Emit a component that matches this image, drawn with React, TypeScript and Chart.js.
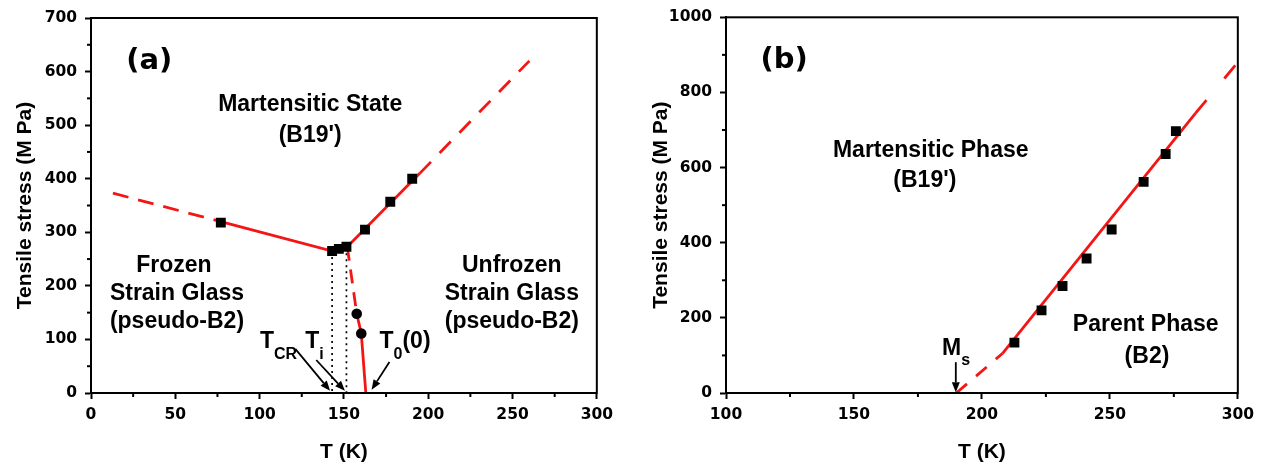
import React, { useEffect, useRef } from 'react';
import { Chart, registerables } from 'chart.js';

Chart.register(...registerables);

// ---------- Panel (a) data ----------
const aSquareT = [77, 143, 147, 151.5, 162.5, 177.5, 190.5];
const aSquareStress = [318, 265, 269, 273, 305, 357, 400];
const aCircleT = [157.6, 160.3];
const aCircleStress = [148, 111];
const aFitLowDashT = [13, 77];
const aFitLowDashStress = [373, 320];
const aFitSolidT = [77, 143, 152, 195];
const aFitSolidStress = [320, 265, 273, 410];
const aFitHighDashT = [195, 260];
const aFitHighDashStress = [410, 620];
const aBoundaryDashT = [152, 157.6];
const aBoundaryDashStress = [273, 148];
const aBoundarySolidT = [157.6, 160.3, 163];
const aBoundarySolidStress = [148, 111, 0];
const aDottedT = [143, 151.5];
const aDottedTop = [265, 272];
const aXTicks = [0, 50, 100, 150, 200, 250, 300];
const aXMinor = [25, 75, 125, 175, 225, 275];
const aYTicks = [0, 100, 200, 300, 400, 500, 600, 700];
const aYMinor = [50, 150, 250, 350, 450, 550, 650];

// ---------- Panel (b) data ----------
const bSquareT = [212.7, 223.3, 231.5, 240.9, 250.7, 263.2, 271.8, 275.8];
const bSquareStress = [134, 220, 285, 358, 435, 562, 636, 697];
const bFitLowDashT = [190, 208];
const bFitLowDashStress = [0, 105];
const bFitSolidT = [208, 283.5];
const bFitSolidStress = [105, 745];
const bFitHighDashT = [283.5, 299];
const bFitHighDashStress = [745, 872];
const bXTicks = [100, 150, 200, 250, 300];
const bXMinor = [125, 175, 225, 275];
const bYTicks = [0, 200, 400, 600, 800, 1000];
const bYMinor = [100, 300, 500, 700, 900];

// ---------- Annotations (data coordinates) ----------
const aLabels = [
  { text: '(a)', t: 34.6, s: 618, big: true },
  { text: 'Martensitic State', t: 130, s: 538 },
  { text: "(B19')", t: 130, s: 480 },
  { text: 'Frozen', t: 49.2, s: 237 },
  { text: 'Strain Glass', t: 51, s: 185 },
  { text: '(pseudo-B2)', t: 51, s: 133 },
  { text: 'Unfrozen', t: 249.6, s: 237 },
  { text: 'Strain Glass', t: 249.6, s: 185 },
  { text: '(pseudo-B2)', t: 249.6, s: 133 },
];
const aSubLabels = [
  { main: 'T', sub: 'CR', after: '', t: 100.2, s: 95 },
  { main: 'T', sub: 'i', after: '', t: 127.1, s: 95 },
  { main: 'T', sub: '0', after: '(0)', t: 171.1, s: 95 },
];
const aArrows = [
  { from: [121.3, 82], to: [141.8, 4] },
  { from: [133.6, 61.6], to: [150.6, 4] },
  { from: [177, 58], to: [166.4, 6] },
];
const bLabels = [
  { text: '(b)', t: 122.7, s: 886, big: true },
  { text: 'Martensitic Phase', t: 180, s: 646 },
  { text: "(B19')", t: 177.7, s: 566 },
  { text: 'Parent Phase', t: 264, s: 181 },
  { text: '(B2)', t: 264.5, s: 98 },
];
const bSubLabels = [{ main: 'M', sub: 's', after: '', t: 184.4, s: 117 }];
const bArrows = [{ from: [189.8, 82], to: [189.8, 2] }];

const RED = '#f41515';
const TICK_FONT = { family: '"DejaVu Sans", sans-serif', size: 15.5, weight: 'bold' as const };
const TITLE_FONT = { family: '"Liberation Sans", Arial, sans-serif', size: 21, weight: 'bold' as const };
const ANN_FONT = 'bold 23px "Liberation Sans", Arial, sans-serif';
const BIG_FONT = 'bold 29px "DejaVu Sans", sans-serif';
const SUB_FONT = 'bold 16px "Liberation Sans", Arial, sans-serif';

const pts = (xs: number[], ys: number[]) => xs.map((x, i) => ({ x, y: ys[i] }));

function drawArrow(ctx: CanvasRenderingContext2D, x1: number, y1: number, x2: number, y2: number) {
  const ang = Math.atan2(y2 - y1, x2 - x1);
  const head = 10;
  const hw = 4;
  const bx = x2 - head * Math.cos(ang);
  const by = y2 - head * Math.sin(ang);
  ctx.beginPath();
  ctx.moveTo(x1, y1);
  ctx.lineTo(bx, by);
  ctx.lineWidth = 1.8;
  ctx.stroke();
  ctx.beginPath();
  ctx.moveTo(x2, y2);
  ctx.lineTo(bx + hw * Math.sin(ang), by - hw * Math.cos(ang));
  ctx.lineTo(bx - hw * Math.sin(ang), by + hw * Math.cos(ang));
  ctx.closePath();
  ctx.fill();
}

function decorPlugin(p: any) {
  return {
    id: 'decor',
    afterDatasetsDraw(chart: any) {
      const { ctx, chartArea: ca, scales } = chart;
      const x = scales.x;
      const y = scales.y;
      ctx.save();
      ctx.strokeStyle = '#000';
      ctx.fillStyle = '#000';
      ctx.lineWidth = 2;
      ctx.setLineDash([]);
      ctx.strokeRect(ca.left, ca.top, ca.right - ca.left, ca.bottom - ca.top);
      // minor ticks
      p.xMinor.forEach((v: number) => {
        const px = x.getPixelForValue(v);
        ctx.beginPath();
        ctx.moveTo(px, ca.bottom);
        ctx.lineTo(px, ca.bottom + 4);
        ctx.stroke();
      });
      p.yMinor.forEach((v: number) => {
        const py = y.getPixelForValue(v);
        ctx.beginPath();
        ctx.moveTo(ca.left, py);
        ctx.lineTo(ca.left - 4, py);
        ctx.stroke();
      });
      // labels
      ctx.textAlign = 'center';
      ctx.textBaseline = 'middle';
      p.labels.forEach((l: any) => {
        ctx.font = l.big ? BIG_FONT : ANN_FONT;
        ctx.fillText(l.text, x.getPixelForValue(l.t), y.getPixelForValue(l.s));
      });
      // subscripted labels
      ctx.textAlign = 'left';
      p.subLabels.forEach((l: any) => {
        let px = x.getPixelForValue(l.t);
        const py = y.getPixelForValue(l.s);
        ctx.font = ANN_FONT;
        ctx.fillText(l.main, px, py);
        px += ctx.measureText(l.main).width;
        ctx.font = SUB_FONT;
        ctx.fillText(l.sub, px, py + 12);
        px += ctx.measureText(l.sub).width;
        if (l.after) {
          ctx.font = ANN_FONT;
          ctx.fillText(l.after, px, py);
        }
      });
      // arrows
      p.arrows.forEach((a: any) => {
        drawArrow(
          ctx,
          x.getPixelForValue(a.from[0]),
          y.getPixelForValue(a.from[1]),
          x.getPixelForValue(a.to[0]),
          y.getPixelForValue(a.to[1])
        );
      });
      ctx.restore();
    },
  };
}

function lineDs(xs: number[], ys: number[], dash: number[], color = RED, width = 2.8) {
  return {
    data: pts(xs, ys),
    showLine: true,
    borderColor: color,
    borderWidth: width,
    borderDash: dash,
    pointRadius: 0,
    fill: false,
    tension: 0,
  };
}

function buildConfig(p: any): any {
  return {
    type: 'scatter',
    data: { datasets: p.datasets },
    plugins: [decorPlugin(p)],
    options: {
      animation: false,
      responsive: false,
      devicePixelRatio: 1,
      layout: { padding: { left: 0, top: p.padTop, right: p.padRight, bottom: 0 } },
      plugins: { legend: { display: false }, tooltip: { enabled: false } },
      scales: {
        x: {
          type: 'linear',
          min: p.xMin,
          max: p.xMax,
          afterBuildTicks: (s: any) => {
            s.ticks = p.xTicks.map((v: number) => ({ value: v }));
          },
          afterFit: (s: any) => {
            s.height = 74;
          },
          ticks: { font: TICK_FONT, color: '#000', padding: 7, maxRotation: 0, autoSkip: false, callback: (v: any) => String(v) },
          grid: { display: true, drawOnChartArea: false, drawTicks: true, tickLength: 6, tickWidth: 2, tickColor: '#000' },
          border: { display: true, color: '#000', width: 2 },
          title: { display: true, text: 'T (K)', font: TITLE_FONT, color: '#000', padding: { top: 0, bottom: 2.4 } },
        },
        y: {
          type: 'linear',
          min: p.yMin,
          max: p.yMax,
          afterBuildTicks: (s: any) => {
            s.ticks = p.yTicks.map((v: number) => ({ value: v }));
          },
          afterFit: (s: any) => {
            s.width = p.yWidth;
          },
          ticks: { font: TICK_FONT, color: '#000', padding: 8, autoSkip: false, callback: (v: any) => String(v) },
          grid: { display: true, drawOnChartArea: false, drawTicks: true, tickLength: 6, tickWidth: 2, tickColor: '#000' },
          border: { display: true, color: '#000', width: 2 },
          title: {
            display: true,
            text: 'Tensile stress (M Pa)',
            font: TITLE_FONT,
            color: '#000',
            padding: { top: p.yTitlePad, bottom: 0 },
          },
        },
      },
    },
  };
}

const squareStyle = { pointStyle: 'rect', pointRadius: 7, backgroundColor: '#000', borderColor: '#000', borderWidth: 0, showLine: false };
const circleStyle = { pointStyle: 'circle', pointRadius: 5.3, backgroundColor: '#000', borderColor: '#000', borderWidth: 0, showLine: false };

const panelA = {
  xMin: 0,
  xMax: 300,
  yMin: 0,
  yMax: 700,
  xTicks: aXTicks,
  yTicks: aYTicks,
  xMinor: aXMinor,
  yMinor: aYMinor,
  padTop: 18,
  padRight: 17,
  yWidth: 91,
  yTitlePad: 13,
  labels: aLabels,
  subLabels: aSubLabels,
  arrows: aArrows,
  datasets: [
    { data: pts(aSquareT, aSquareStress), ...squareStyle },
    { data: pts(aCircleT, aCircleStress), ...circleStyle },
    lineDs(aFitLowDashT, aFitLowDashStress, [16, 10]),
    lineDs(aFitSolidT, aFitSolidStress, []),
    lineDs(aFitHighDashT, aFitHighDashStress, [16, 12.4]),
    lineDs(aBoundaryDashT, aBoundaryDashStress, [14, 9]),
    lineDs(aBoundarySolidT, aBoundarySolidStress, []),
    lineDs([aDottedT[0], aDottedT[0]], [aDottedTop[0], 0], [2, 4], '#000', 1.7),
    lineDs([aDottedT[1], aDottedT[1]], [aDottedTop[1], 0], [2, 4], '#000', 1.7),
  ],
};

const panelB = {
  xMin: 100,
  xMax: 300,
  yMin: 0,
  yMax: 1000,
  xTicks: bXTicks,
  yTicks: bYTicks,
  xMinor: bXMinor,
  yMinor: bYMinor,
  padTop: 17,
  padRight: 23,
  yWidth: 106,
  yTitlePad: 29,
  labels: bLabels,
  subLabels: bSubLabels,
  arrows: bArrows,
  datasets: [
    { data: pts(bSquareT, bSquareStress), ...squareStyle },
    lineDs(bFitLowDashT, bFitLowDashStress, [14, 12]),
    lineDs(bFitSolidT, bFitSolidStress, []),
    lineDs(bFitHighDashT, bFitHighDashStress, [17, 28]),
  ],
};

function Panel({ cfg, left, width }: { cfg: any; left: number; width: number }) {
  const ref = useRef<HTMLCanvasElement>(null);
  useEffect(() => {
    if (!ref.current) return;
    const chart = new Chart(ref.current, buildConfig(cfg));
    return () => chart.destroy();
  }, [cfg]);
  return (
    <canvas
      ref={ref}
      width={width}
      height={467}
      style={{ position: 'absolute', left, top: 0, width, height: 467, display: 'block' }}
    />
  );
}

export default function App() {
  return (
    <div style={{ position: 'absolute', left: 0, top: 0, width: 1261, height: 467, background: '#fff', overflow: 'hidden' }}>
      <Panel cfg={panelA} left={0} width={620} />
      <Panel cfg={panelB} left={620} width={641} />
    </div>
  );
}
